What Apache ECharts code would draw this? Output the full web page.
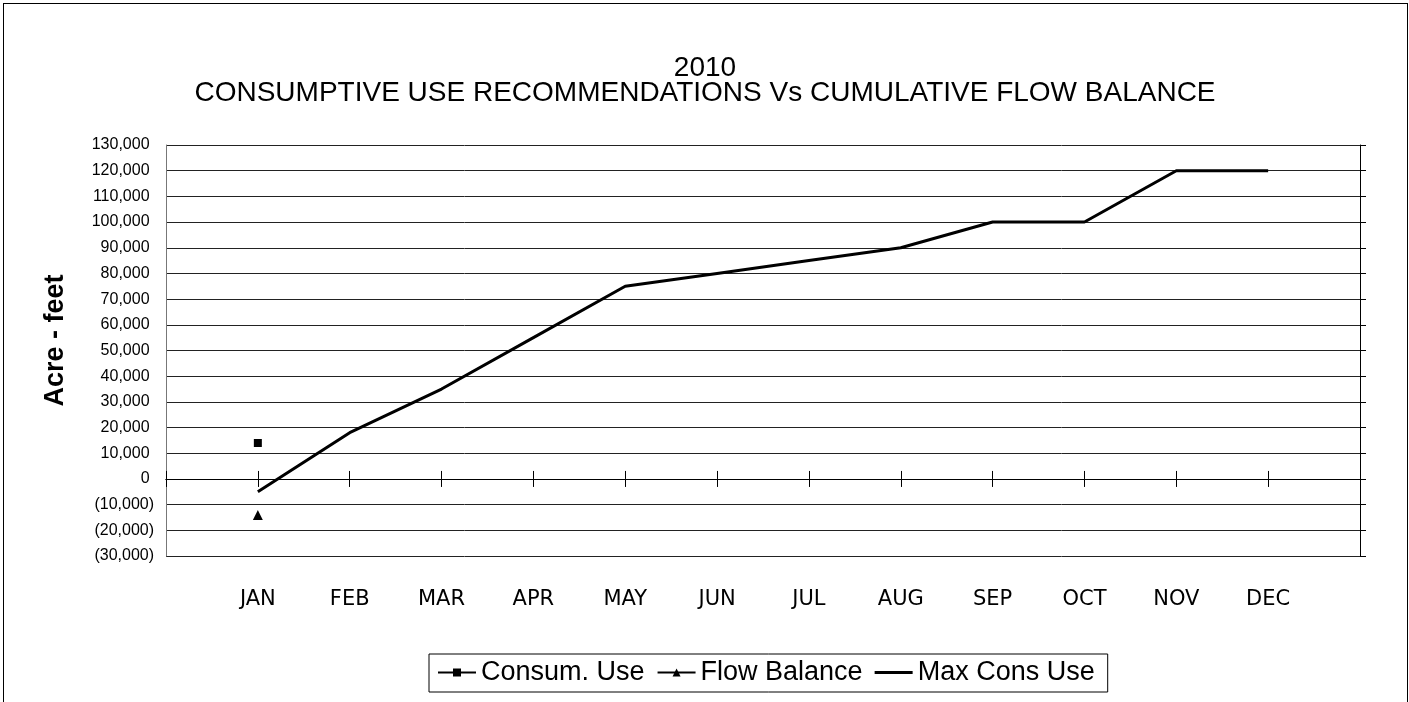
<!DOCTYPE html>
<html>
<head>
<meta charset="utf-8">
<script src="https://cdn.jsdelivr.net/npm/echarts@6/dist/echarts.min.js"></script>
<style>
  html, body { margin: 0; padding: 0; background: #fff; }
  #frame { position: absolute; left: 3px; top: 3px; width: 1405px; height: 710px; border: 1px solid #000; box-sizing: border-box; }
  #chart { position: absolute; left: 0; top: 0; width: 1409px; height: 702px; }
</style>
</head>
<body>
<div id="frame"></div>
<div id="chart"></div>
<script>
const months = ['JAN','FEB','MAR','APR','MAY','JUN','JUL','AUG','SEP','OCT','NOV','DEC'];
const consumUse = [14000, null, null, null, null, null, null, null, null, null, null, null];
const flowBalance = [-14000, null, null, null, null, null, null, null, null, null, null, null];
const maxConsUse = [-5000, 18000, 35000, 55000, 75000, 80000, 85000, 90000, 100000, 100000, 120000, 120000];
const yMin = -30000, yMax = 130000, yStep = 10000;

const cats = [''].concat(months, ['']);
const pad = arr => [null].concat(arr, [null]);

function fmt(v) {
  const s = Math.abs(v).toLocaleString('en-US');
  return v < 0 ? '(' + s + ')' : s + ' ';
}

const chart = echarts.init(document.getElementById('chart'), null, { renderer: 'canvas' });
chart.setOption({
  animation: false,
  backgroundColor: 'transparent',
  title: {
    text: '2010\nCONSUMPTIVE USE RECOMMENDATIONS Vs CUMULATIVE FLOW BALANCE',
    left: 700, textAlign: 'center', top: 51,
    textStyle: { fontFamily: 'Liberation Sans, Arial', fontSize: 28, fontWeight: 'normal', color: '#000', lineHeight: 25 }
  },
  legend: {
    left: 429, top: 654,
    padding: [5, 13, 6, 8],
    itemGap: 12,
    itemWidth: 38, itemHeight: 10,
    borderColor: '#000', borderWidth: 1,
    textStyle: { fontFamily: 'Liberation Sans, Arial', fontSize: 27, color: '#000' },
    data: [
      'Consum. Use',
      'Flow Balance',
      { name: 'Max Cons Use', icon: 'path://M0,0H38V3H0Z' }
    ]
  },
  grid: { left: 166, right: 49, top: 145, bottom: 146, containLabel: false, show: false },
  xAxis: [
    {
      type: 'category', data: cats, boundaryGap: false, position: 'bottom',
      axisLine: { onZero: true, lineStyle: { color: '#000', width: 1 } },
      axisTick: { show: true, inside: false, length: 8, lineStyle: { color: '#000' } },
      axisLabel: { show: false }, splitLine: { show: false }
    },
    {
      type: 'category', data: cats, boundaryGap: false, position: 'top',
      axisLine: { show: true, onZero: true, lineStyle: { color: '#000', width: 1 } },
      axisTick: { show: true, inside: false, length: 8, lineStyle: { color: '#000' } },
      axisLabel: { show: false }, splitLine: { show: false }
    },
    {
      type: 'category', data: cats, boundaryGap: false, position: 'bottom',
      axisLine: { show: false, onZero: false }, axisTick: { show: false },
      axisLabel: { show: true, margin: 33, interval: 0, fontFamily: 'DejaVu Sans', fontSize: 21, color: '#000' },
      splitLine: { show: false }
    }
  ],
  yAxis: [
    {
      type: 'value', min: yMin, max: yMax, interval: yStep, position: 'left',
      name: 'Acre - feet', nameLocation: 'middle', nameGap: 97, nameRotate: 90,
      nameTextStyle: { fontFamily: 'Liberation Sans, Arial', fontSize: 27, fontWeight: 'bold', color: '#000', padding: [0, 0, 0, 20] },
      axisLine: { show: true, lineStyle: { color: '#777', width: 1 } },
      axisTick: { show: false },
      axisLabel: { formatter: fmt, fontFamily: 'Liberation Sans, Arial', fontSize: 16, color: '#000', margin: 12 },
      splitLine: { show: true, lineStyle: { color: '#222', width: 1 } }
    },
    {
      type: 'value', min: yMin, max: yMax, interval: yStep, position: 'right',
      axisLine: { show: true, lineStyle: { color: '#000', width: 1 } },
      axisTick: { show: true, inside: false, length: 6, lineStyle: { color: '#000' } },
      axisLabel: { show: false }, splitLine: { show: false }
    }
  ],
  series: [
    {
      name: 'Consum. Use', type: 'line', xAxisIndex: 0, yAxisIndex: 0, data: pad(consumUse),
      symbol: 'rect', symbolSize: 8, showSymbol: true,
      lineStyle: { color: '#000', width: 1.5 }, itemStyle: { color: '#000' }
    },
    {
      name: 'Flow Balance', type: 'line', xAxisIndex: 0, yAxisIndex: 0, data: pad(flowBalance),
      symbol: 'triangle', symbolSize: 10, showSymbol: true,
      lineStyle: { color: '#000', width: 1.5 }, itemStyle: { color: '#000' }
    },
    {
      name: 'Max Cons Use', type: 'line', xAxisIndex: 0, yAxisIndex: 0, data: pad(maxConsUse),
      symbol: 'none', lineStyle: { color: '#000', width: 3 }, itemStyle: { color: '#000' }
    }
  ]
});
</script>
</body>
</html>
